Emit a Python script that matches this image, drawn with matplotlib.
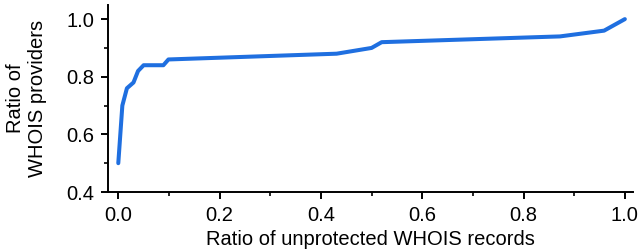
import matplotlib
matplotlib.use("Agg")
import matplotlib.pyplot as plt
from matplotlib.ticker import MultipleLocator

unprotected_ratio = [0.0, 0.008, 0.017, 0.03, 0.039, 0.05, 0.089, 0.099,
                     0.431, 0.50, 0.52, 0.872, 0.959, 1.0]
provider_ratio = [0.50, 0.70, 0.76, 0.78, 0.82, 0.84, 0.84, 0.86,
                  0.88, 0.90, 0.92, 0.94, 0.96, 1.0]

plt.rcParams['font.family'] = ['Liberation Sans', 'DejaVu Sans']
plt.rcParams['font.size'] = 14.5

fig = plt.figure(figsize=(6.4, 2.5), dpi=100)
ax = fig.add_axes([0.169, 0.232, 0.82, 0.748])

ax.plot(unprotected_ratio, provider_ratio, color='#1f6fe0', linewidth=2.9,
        solid_capstyle='round', solid_joinstyle='round')

ax.set_xlim(-0.02, 1.016)
ax.set_ylim(0.4, 1.049)
ax.xaxis.set_major_locator(MultipleLocator(0.2))
ax.xaxis.set_minor_locator(MultipleLocator(0.1))
ax.yaxis.set_major_locator(MultipleLocator(0.2))
ax.yaxis.set_minor_locator(MultipleLocator(0.1))
ax.tick_params(which='major', length=5, width=1.4, direction='out', pad=5,
               labelsize=14.5)
ax.tick_params(which='minor', length=3, width=1.2, direction='out')

for side in ['top', 'right']:
    ax.spines[side].set_visible(False)
for side in ['left', 'bottom']:
    ax.spines[side].set_linewidth(1.4)

ax.set_xlabel('Ratio of unprotected WHOIS records', labelpad=4)
ax.set_ylabel('Ratio of\nWHOIS providers', labelpad=14)

fig.savefig('out.png', dpi=100)
